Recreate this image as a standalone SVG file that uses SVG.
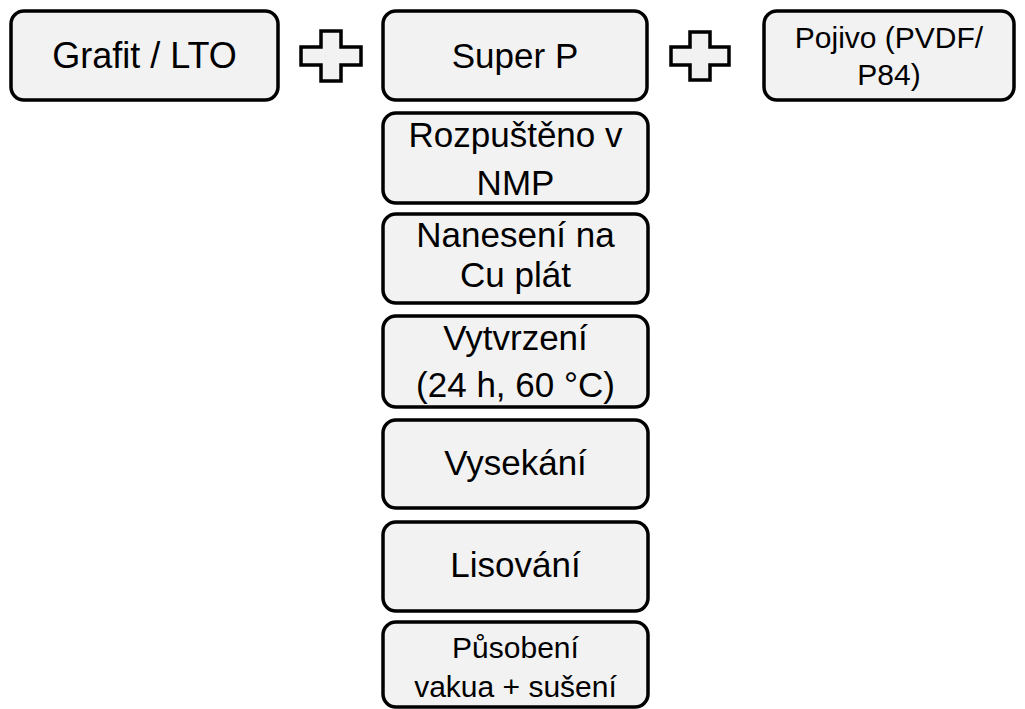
<svg xmlns="http://www.w3.org/2000/svg" width="1025" height="709" viewBox="0 0 1025 709">
<style>
.box{fill:#f2f2f2;stroke:#000;stroke-width:3.5}
.plus{fill:#f2f2f2;stroke:#000;stroke-width:3.5;stroke-linejoin:miter}
text{font-family:"Liberation Sans",Arial,sans-serif;fill:#000;text-anchor:middle}
.t36{font-size:36px}
.t35{font-size:35px}
.t30{font-size:30px}
</style>
<rect width="1025" height="709" fill="#fff"/>
<g id="connectors">
<path id="plus1" class="plus" d="M321,31 H341 V47 H361 V65 H341 V81 H321 V65 H301 V47 H321 Z"/>
<path id="plus2" class="plus" d="M690,32 H710 V47 H729 V65 H710 V80 H690 V65 H671 V47 H690 Z"/>
</g>
<g id="grafit">
<rect class="box" x="11" y="11" width="267" height="89" rx="13"/>
<text class="t36" x="144.5" y="68">Grafit / LTO</text>
</g>
<g id="superp">
<rect class="box" x="383" y="11" width="264" height="89" rx="13"/>
<text class="t35" x="515" y="68">Super P</text>
</g>
<g id="pojivo">
<rect class="box" x="764" y="11" width="250" height="89" rx="13"/>
<text class="t30" x="889" y="48">Pojivo (PVDF/</text>
<text class="t30" x="889" y="85">P84)</text>
</g>
<g id="rozpusteno">
<rect class="box" x="383" y="113" width="265" height="90" rx="13"/>
<text class="t35" x="515.5" y="147">Rozpuštěno v</text>
<text class="t35" x="515.5" y="195">NMP</text>
</g>
<g id="naneseni">
<rect class="box" x="383" y="214" width="265" height="89" rx="13"/>
<text class="t35" x="515.5" y="247">Nanesení na</text>
<text class="t35" x="515.5" y="287">Cu plát</text>
</g>
<g id="vytvrzeni">
<rect class="box" x="383" y="316" width="265" height="91" rx="13"/>
<text class="t35" x="515.5" y="350">Vytvrzení</text>
<text class="t35" x="515.5" y="397">(24 h, 60 °C)</text>
</g>
<g id="vysekani">
<rect class="box" x="383" y="420" width="265" height="88" rx="13"/>
<text class="t35" x="515.5" y="475">Vysekání</text>
</g>
<g id="lisovani">
<rect class="box" x="383" y="522" width="265" height="89" rx="13"/>
<text class="t35" x="515.5" y="577">Lisování</text>
</g>
<g id="pusobeni">
<rect class="box" x="383" y="622" width="265" height="85" rx="13"/>
<text class="t30" x="515.5" y="658">Působení</text>
<text class="t30" x="515.5" y="697">vakua + sušení</text>
</g>
</svg>
